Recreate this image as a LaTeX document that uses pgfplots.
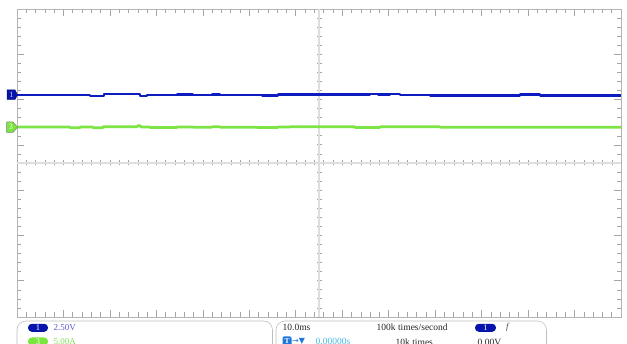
\documentclass[border=0pt]{standalone}
\usepackage{pgfplots}
\pgfplotsset{compat=1.18}
\usepackage{fontspec}
\setmainfont{Liberation Serif}
\newfontfamily\sym{DejaVu Sans}
\definecolor{trblue}{RGB}{12,28,190}
\definecolor{trgreen}{RGB}{125,228,70}
\definecolor{framegray}{RGB}{180,180,180}
\definecolor{tickgray}{RGB}{165,165,165}
\definecolor{centergray}{RGB}{222,222,222}
\definecolor{pillblue}{RGB}{5,20,170}
\definecolor{pillgreen}{RGB}{120,230,60}
\definecolor{txtblue}{RGB}{90,90,210}
\definecolor{txtgreen}{RGB}{130,225,90}
\definecolor{txtcyan}{RGB}{70,185,230}
\definecolor{iconblue}{RGB}{30,120,220}
\definecolor{boxgray}{RGB}{190,190,190}
\begin{document}
\begin{tikzpicture}[x=1pt,y=1pt]
\useasboundingbox (0,0) rectangle (627,344);
% frame
\begin{axis}[at={(17pt,27pt)},anchor=south west,scale only axis,width=604pt,height=308pt,
  xmin=0,xmax=604,ymin=0,ymax=308,
  axis line style={draw=framegray,line width=0.7pt},
  tick align=inside, scaled ticks=false,
  xtick={0,46.4615,...,604.1}, minor xtick={0,9.2923,...,604.1},
  ytick={36.235,81.529,126.82,172.12,217.41,262.71}, minor ytick={0,9.0588,...,308.1},
  xticklabels={},yticklabels={},
  major tick length=7pt,minor tick length=4.5pt,
  every tick/.style={draw=tickgray,line width=0.6pt},
]
\end{axis}
% centre cross
\begin{axis}[at={(17pt,27pt)},anchor=south west,scale only axis,width=604pt,height=308pt,
  xmin=-302,xmax=302,ymin=-154,ymax=154,
  axis lines=middle, axis line style={-,draw=centergray,line width=1.6pt},
  tick align=center, scaled ticks=false,
  xtick={-301.9,-292.6077,...,302}, ytick={-153.9,-144.8412,...,154},
  xticklabels={},yticklabels={},
  major tick length=5pt,
  every tick/.style={draw=tickgray,line width=0.6pt},
]
\end{axis}
% traces
\begin{axis}[at={(17pt,27pt)},anchor=south west,scale only axis,width=604pt,height=308pt,
  xmin=0,xmax=604,ymin=0,ymax=308, hide axis]
\addplot[trblue,line width=2.7pt,line join=round] coordinates {
(0,222)(73,222)(73,220.9)(87,220.9)(87,222.9)(123,222.9)(123,221)(130,221)(130,222)
(160,222)(160,222.6)(176,222.6)(176,222)(195,222)(195,222.6)(203,222.6)(203,222)
(245,222)(245,221.3)(261,221.3)(261,222.2)(353,222.2)(353,222.9)(361,222.9)(361,222.2)
(373,222.2)(373,222.9)(383,222.9)(383,222)(413,222)(413,221.2)(421,221.2)(421,221.8)
(503,221.8)(503,222.4)(523,222.4)(523,221.6)(604,221.6)};
\addplot[trgreen,line width=2.7pt,line join=round] coordinates {
(0,190)(53,190)(53,189.2)(63,189.2)(63,190)(76,190)(76,189.3)(86,189.3)(86,190.3)
(120,190.3)(121,191.3)(123,191.3)(124,190)(133,190)(133,189.4)(160,189.4)(160,190)
(176,190)(176,189.7)(195,189.7)(195,190.3)(203,190.3)(203,189.8)(240,189.8)
(240,189.4)(261,189.4)(261,190)(273,190)(273,190.2)(338,190.2)(338,189.4)(363,189.4)
(363,190.2)(423,190.2)(423,189.8)(604,189.8)};
\end{axis}
% channel tags
\draw[fill=pillblue,draw=pillblue!70!black,line width=0.5pt] (7,244.5) -- (7,254) -- (15,254) -- (17.5,249.2) -- (15,244.5) -- cycle;
\node[text=white!85!blue,inner sep=0,font=\fontsize{8}{8}\selectfont] at (11.3,249.2) {1};
\draw[fill=pillgreen,draw=gray,line width=0.5pt] (6.5,211.5) -- (6.5,222) -- (13,222) -- (17.5,216.8) -- (13,211.5) -- cycle;
\node[text=white,inner sep=0,font=\fontsize{8}{8}\selectfont] at (10.8,216.8) {3};
% info boxes
\draw[boxgray,line width=0.6pt,rounded corners=9pt] (17,-30) -- (17,23) -- (272.5,23) -- (272.5,-30);
\draw[boxgray,line width=0.6pt,rounded corners=9pt] (276,-30) -- (276,23) -- (546.5,23) -- (546.5,-30);
\node[fill=pillblue,rounded corners=3.8pt,minimum width=20pt,minimum height=8pt,inner sep=0,text=white,font=\fontsize{8.5}{8.5}\selectfont] at (38,16.2) {1};
\node[fill=pillgreen,rounded corners=3.8pt,minimum width=20pt,minimum height=8pt,inner sep=0,text=white,font=\fontsize{8.5}{8.5}\selectfont] at (38,2.5) {3};
\node[anchor=west,inner sep=0,text=txtblue,font=\fontsize{9}{9}\selectfont] at (53.5,16.2) {2.50V};
\node[anchor=west,inner sep=0,text=txtgreen,font=\fontsize{9}{9}\selectfont] at (53.5,2.5) {5.00A};
\node[anchor=west,inner sep=0,text=black!85,font=\fontsize{9.5}{9.5}\selectfont] at (282.5,16.5) {10.0ms};
\node[anchor=west,inner sep=0,text=black!85,font=\fontsize{9.5}{9.5}\selectfont] at (376.5,16.5) {100k times/second};
\node[fill=pillblue,rounded corners=3.8pt,minimum width=21pt,minimum height=8pt,inner sep=0,text=white,font=\fontsize{8.5}{8.5}\selectfont] at (485.5,16.2) {1};
\node[anchor=west,inner sep=0,text=black!70,font=\fontsize{9}{9}\itshape] at (506,16.5) {f};
\node[fill=iconblue,rounded corners=1.5pt,minimum width=9pt,minimum height=9pt,inner sep=0,text=white,font=\fontsize{7.5}{7.5}\selectfont\bfseries] at (287,3) {T};
\node[anchor=west,inner sep=0,text=iconblue,font=\fontsize{8}{8}\sym] at (292,3) {→▼};
\node[anchor=west,inner sep=0,text=txtcyan,font=\fontsize{9.5}{9.5}\selectfont] at (315.5,3) {0.00000s};
\node[anchor=west,inner sep=0,text=black!85,font=\fontsize{9.5}{9.5}\selectfont] at (395.5,2) {10k times};
\node[anchor=west,inner sep=0,text=black!85,font=\fontsize{9.5}{9.5}\selectfont] at (477.5,2) {0.00V};
\end{tikzpicture}
\end{document}
